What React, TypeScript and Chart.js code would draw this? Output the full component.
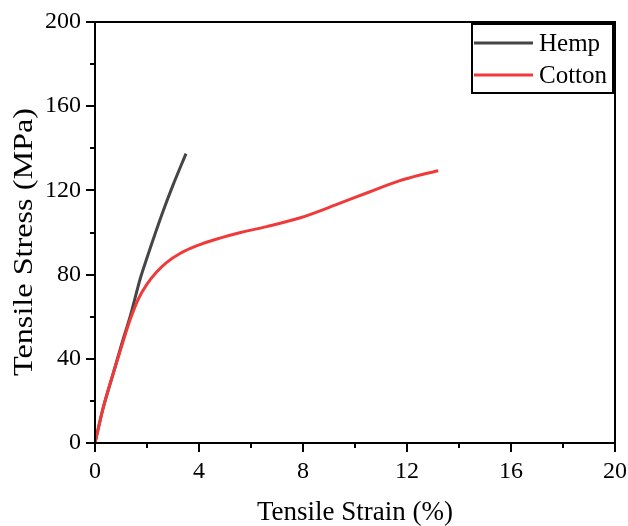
import React, { useEffect, useRef } from 'react';
import { Chart, registerables } from 'chart.js';

Chart.register(...registerables);

const SERIF = '"Liberation Serif", "Times New Roman", serif';

const hempStrain = [0, 0.3, 0.7, 1.05, 1.35, 1.75, 2.0, 2.6, 3.0, 3.5];
const hempStress = [0, 16, 33, 48, 60, 78.5, 88, 109.5, 122.5, 137.5];

const cottonStrain = [0, 0.3, 0.7, 1.1, 1.35, 1.67, 2.0, 2.37, 2.76, 3.27, 3.9, 4.8, 5.6, 6.6, 7.9, 9.4, 10.5, 11.7, 12.5, 13.2];
const cottonStress = [0, 16, 33, 49, 58.5, 68.5, 75.5, 81.2, 85.8, 90, 93.6, 97.3, 100, 102.8, 107, 113.8, 119, 124.5, 127.3, 129.3];

const xTickValues = [0, 4, 8, 12, 16, 20];
const yTickValues = [0, 40, 80, 120, 160, 200];

const seriesLabels = ['Hemp', 'Cotton'];
const seriesColors = ['#454545', '#f03a3a'];
const yTitleText = 'Tensile Stress (MPa)';

const framePlugin = {
  id: 'framePlugin',
  afterDraw(chart: any) {
    const { ctx, chartArea } = chart;
    const { left, right, top, bottom } = chartArea;
    const xs = chart.scales.x;
    const ys = chart.scales.y;
    ctx.save();
    ctx.strokeStyle = '#000';
    ctx.lineWidth = 2;
    ctx.strokeRect(left, top, right - left, bottom - top);
    ctx.beginPath();
    for (let v = 0; v <= 20; v += 2) {
      const px = Math.round(xs.getPixelForValue(v));
      const len = v % 4 === 0 ? 9 : 5;
      ctx.moveTo(px, bottom);
      ctx.lineTo(px, bottom + len);
    }
    for (let v = 0; v <= 200; v += 20) {
      const py = Math.round(ys.getPixelForValue(v));
      const len = v % 40 === 0 ? 9 : 5;
      ctx.moveTo(left, py);
      ctx.lineTo(left - len, py);
    }
    ctx.stroke();

    // y-axis title (stretched along its length like the reference)
    ctx.save();
    ctx.fillStyle = '#000';
    ctx.font = `27px ${SERIF}`;
    ctx.textAlign = 'center';
    ctx.textBaseline = 'middle';
    const w = ctx.measureText(yTitleText).width;
    ctx.translate(25, 242);
    ctx.rotate(-Math.PI / 2);
    ctx.scale(268 / w, 1);
    ctx.fillText(yTitleText, 0, 0);
    ctx.restore();

    // legend box
    const bx = 472, by = 24, bw = 141, bh = 69;
    ctx.fillStyle = '#fff';
    ctx.fillRect(bx, by, bw, bh);
    ctx.strokeStyle = '#000';
    ctx.lineWidth = 2;
    ctx.strokeRect(bx, by, bw, bh);
    const rows = [43, 75];
    chart.data.datasets.forEach((ds: any, i: number) => {
      const yy = rows[i];
      ctx.strokeStyle = ds.borderColor;
      ctx.lineWidth = 3;
      ctx.beginPath();
      ctx.moveTo(474, yy);
      ctx.lineTo(533, yy);
      ctx.stroke();
      ctx.fillStyle = '#000';
      ctx.font = `25px ${SERIF}`;
      ctx.textAlign = 'left';
      ctx.textBaseline = 'middle';
      ctx.fillText(ds.label, 539, yy + 1);
    });
    ctx.restore();
  },
};

export default function App() {
  const ref = useRef<HTMLCanvasElement | null>(null);
  useEffect(() => {
    document.body.style.margin = '0';
    const canvas = ref.current;
    if (!canvas) return;
    const chart = new Chart(canvas, {
      type: 'line',
      data: {
        datasets: [
          {
            label: seriesLabels[0],
            data: hempStrain.map((x, i) => ({ x, y: hempStress[i] })),
            borderColor: seriesColors[0],
            borderWidth: 3,
            pointRadius: 0,
            cubicInterpolationMode: 'monotone',
            fill: false,
            order: 1,
          },
          {
            label: seriesLabels[1],
            data: cottonStrain.map((x, i) => ({ x, y: cottonStress[i] })),
            borderColor: seriesColors[1],
            borderWidth: 3,
            pointRadius: 0,
            cubicInterpolationMode: 'monotone',
            fill: false,
            order: 0,
          },
        ],
      },
      options: {
        responsive: false,
        animation: false,
        layout: { padding: { left: 0, top: 22, right: 13, bottom: 0 } },
        plugins: { legend: { display: false }, tooltip: { enabled: false } },
        scales: {
          x: {
            type: 'linear',
            min: 0,
            max: 20,
            afterBuildTicks: (s: any) => {
              s.ticks = xTickValues.map((v) => ({ value: v }));
            },
            afterFit: (s: any) => {
              s.height = 83;
              s.paddingLeft = 0;
              s.paddingRight = 0;
            },
            grid: { display: false, drawTicks: false },
            border: { display: false },
            ticks: {
              color: '#000',
              font: { family: SERIF, size: 24 },
              padding: 14,
              maxRotation: 0,
            },
            title: {
              display: true,
              text: 'Tensile Strain (%)',
              color: '#000',
              font: { family: SERIF, size: 27 },
              padding: { top: 0, bottom: -3 },
            },
          },
          y: {
            type: 'linear',
            min: 0,
            max: 200,
            afterBuildTicks: (s: any) => {
              s.ticks = yTickValues.map((v) => ({ value: v }));
            },
            afterFit: (s: any) => {
              s.width = 95;
              s.paddingTop = 0;
              s.paddingBottom = 0;
            },
            grid: { display: false, drawTicks: false },
            border: { display: false },
            ticks: {
              color: '#000',
              font: { family: SERIF, size: 24 },
              padding: 14,
            },
            title: { display: false },
          },
        },
      },
      plugins: [framePlugin],
    } as any);
    return () => chart.destroy();
  }, []);
  return <canvas ref={ref} width={628} height={526} style={{ display: 'block' }} />;
}
